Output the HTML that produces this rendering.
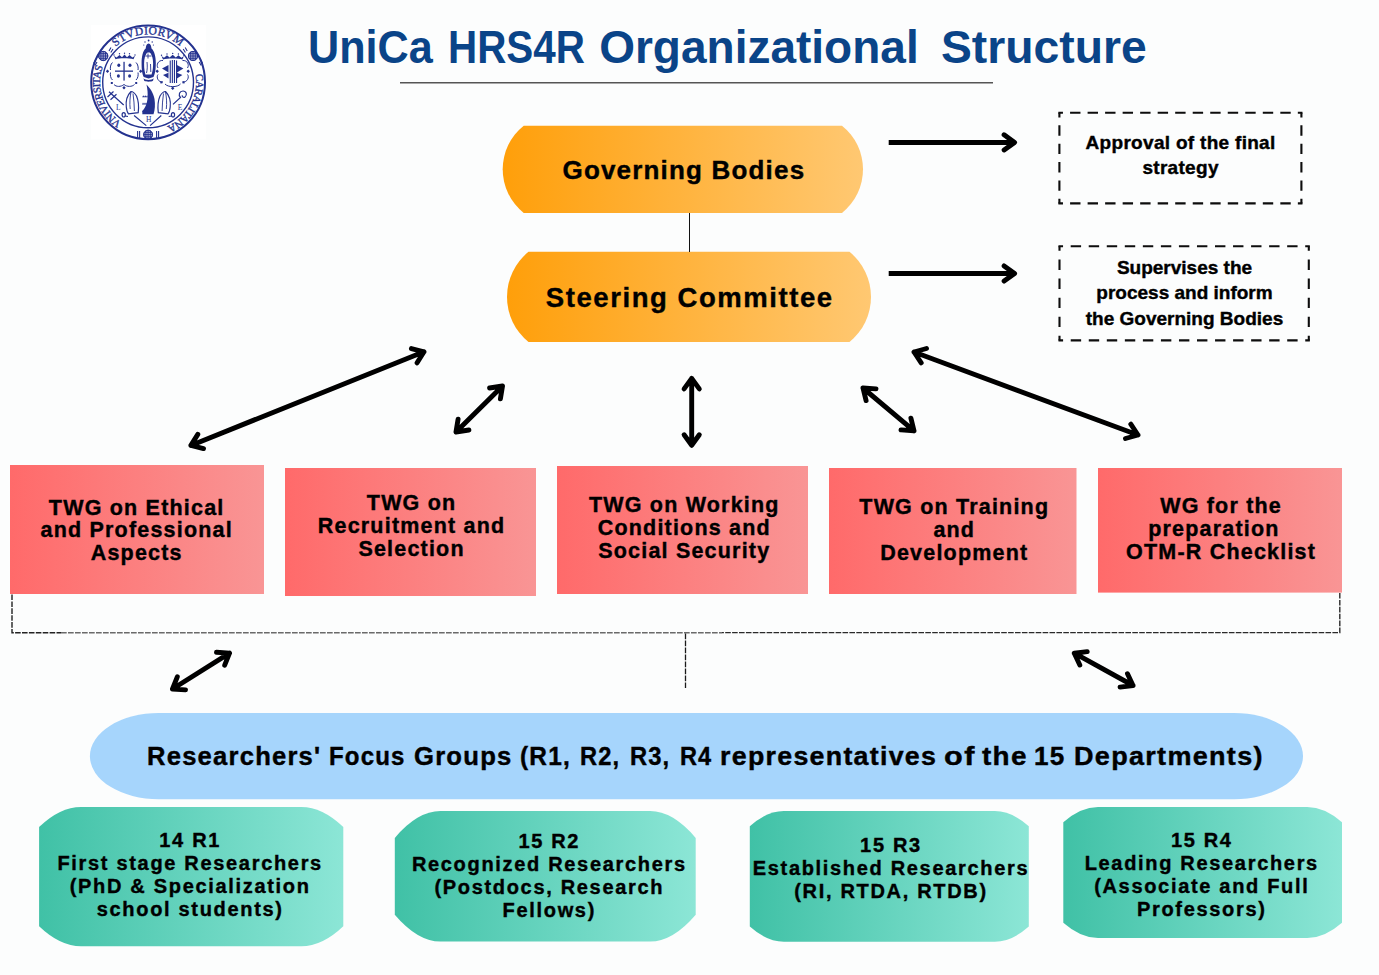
<!DOCTYPE html>
<html><head><meta charset="utf-8"><style>
html,body{margin:0;padding:0;}
body{width:1379px;height:975px;overflow:hidden;position:relative;background:#fcfdfd;font-family:"Liberation Sans",sans-serif;}
svg{position:absolute;left:0;top:0;}
.tt{position:absolute;font-size:46px;line-height:60px;font-weight:bold;color:#0a4488;white-space:nowrap;transform-origin:0 0;}
.t{position:absolute;text-align:center;font-weight:bold;color:#000;white-space:nowrap;-webkit-text-stroke:0.4px #000;}
</style></head><body>
<svg width="1379" height="975" viewBox="0 0 1379 975">
<defs>
<linearGradient id="go" x1="0" y1="0" x2="1" y2="0"><stop offset="0" stop-color="#ff9f0a"/><stop offset="1" stop-color="#ffc872"/></linearGradient>
<linearGradient id="gr" x1="0" y1="0" x2="1" y2="0"><stop offset="0" stop-color="#ff6a6a"/><stop offset="1" stop-color="#f99595"/></linearGradient>
<linearGradient id="gg" x1="0" y1="0" x2="1" y2="0"><stop offset="0" stop-color="#40c1a6"/><stop offset="1" stop-color="#8ce6d6"/></linearGradient>
</defs>
<g id="logo">
<rect x="90.9" y="24.8" width="115.2" height="114.6" fill="#fff"/>
<defs><path id="ring" d="M148.1 130.3A48 48 0 1 1 148.1 34.3A48 48 0 1 1 148.1 130.3"/></defs>
<circle cx="148.1" cy="82.3" r="56.9" fill="none" stroke="#24328f" stroke-width="2"/>
<circle cx="148.1" cy="82.3" r="45.4" fill="none" stroke="#24328f" stroke-width="1.4"/>
<g font-family="Liberation Serif" fill="#24328f" font-size="11.5" stroke="#24328f" stroke-width="0.35">
<text letter-spacing="-0.6" font-size="10.8"><textPath href="#ring" startOffset="59.5" text-anchor="middle">VNIVERSITAS</textPath></text>
<text letter-spacing="0.4"><textPath href="#ring" startOffset="150.5" text-anchor="middle">STVDIORVM</textPath></text>
<text letter-spacing="-0.6" font-size="10.8"><textPath href="#ring" startOffset="249.5" text-anchor="middle">CARALITANA</textPath></text>
</g>
<g fill="none" stroke="#24328f" stroke-width="0.9">
<circle cx="103.2" cy="56" r="4.6" fill="#24328f" fill-opacity="0.35"/><circle cx="103.2" cy="56" r="4.6"/><path d="M98.60000000000001 56H107.8M103.2 51.4V60.6M99.29 53.7H107.11M99.29 58.3H107.11M100.9 52.09V59.91M105.5 52.09V59.91"/>
<circle cx="193.0" cy="56" r="4.6" fill="#24328f" fill-opacity="0.35"/><circle cx="193.0" cy="56" r="4.6"/><path d="M188.4 56H197.6M193.0 51.4V60.6M189.09 53.7H196.91M189.09 58.3H196.91M190.7 52.09V59.91M195.3 52.09V59.91"/>
<circle cx="148.1" cy="134.6" r="4.4" fill="#24328f" fill-opacity="0.35"/><circle cx="148.1" cy="134.6" r="4.4"/><path d="M143.7 134.6H152.5M148.1 130.2V139.0M144.35999999999999 132.4H151.84M144.35999999999999 136.79999999999998H151.84M145.9 130.85999999999999V138.34M150.29999999999998 130.85999999999999V138.34"/>
<path d="M97 62L95 65.5M95.5 60L93.5 63.5M109 51L111 47.5M110.8 52.5L113 49M199.2 62L201.2 65.5M200.7 60L202.7 63.5M187.2 51L185.2 47.5M185.4 52.5L183.2 49M137.6 131V138.5M139.6 131V138.5M158.6 131V138.5M156.6 131V138.5" stroke-width="1.1"/>
</g>
<g fill="#24328f">
<!-- madonna -->
<circle cx="148.6" cy="40.5" r="0.9"/><circle cx="145" cy="42" r="0.7"/><circle cx="152.2" cy="42" r="0.7"/><circle cx="143.8" cy="45" r="0.6"/><circle cx="153.4" cy="45" r="0.6"/>
<path d="M148.6 43.5C150.5 43.5 151.3 46 151.5 48.5C154.5 51 155.8 57 155.8 63C155.8 70 155 74 153.5 77L148.6 78.5L143.7 77C142.2 74 141.6 70 141.6 63C141.6 57 142.7 51 145.7 48.5C145.9 46 146.7 43.5 148.6 43.5Z"/>
<path d="M147.6 52.5C146 53.5 145 56 144.3 60C143.8 65 144.2 70 145.4 74.5L151.6 74.5C153 70 153.4 65 152.9 60C152.2 56 151.2 53.5 149.6 52.5Z" fill="#fff"/>
<path d="M148 53.5V58.5M145.5 56H151.5M147 62C147.5 66 147.3 70 146.5 73M150.5 64L150.8 72" stroke="#24328f" stroke-width="0.9" fill="none"/>
<path d="M143.5 78.2C145 80.5 152 80.5 153.7 78.2L153 80.8C151 82 146 82 144.2 80.8Z"/>
<!-- left arms -->
<path d="M114 55.8L116.5 57.5L119.5 55L122 57.2L124.5 54.5L127 57.2L129.5 55L132.5 57.5L135 55.8L133.5 59.2C129 58 119 58 115.5 59.2Z"/>
<circle cx="114" cy="55" r="0.7"/><circle cx="119.5" cy="53.8" r="0.7"/><circle cx="124.5" cy="53.2" r="0.7"/><circle cx="129.5" cy="53.8" r="0.7"/><circle cx="135" cy="55" r="0.7"/>
<rect x="115" y="70.5" width="18" height="1.3"/><rect x="123.4" y="61.8" width="1.3" height="18.8"/>
<ellipse cx="118.8" cy="65.2" rx="1.5" ry="1.8"/><ellipse cx="130" cy="65.2" rx="1.5" ry="1.8"/><ellipse cx="118.4" cy="76" rx="1.5" ry="1.8"/><ellipse cx="129.6" cy="76" rx="1.5" ry="1.8"/>
<path d="M105.8 71.2L107.5 69.5L109.2 71.2L107.5 72.9ZM139 71.2L140.7 69.5L142.4 71.2L140.7 72.9ZM122.3 87.8L124 86.1L125.7 87.8L124 89.5Z"/>
<rect x="110.8" y="82" width="2" height="2"/><rect x="135.2" y="82" width="2" height="2"/>
</g>
<g fill="none" stroke="#24328f" stroke-width="1">
<path d="M112.5 62.5C110.5 64 110 68 110.5 70M112.5 80C110.5 78.5 110 74.5 110.5 72.5M136 62.5C138 64 138.5 68 138 70M136 80C138 78.5 138.5 74.5 138 72.5"/>
<path d="M114 84.5C116 87 121 87 124 84.5C127 87 132 87 134.5 84.5"/>
<!-- right arms frame -->
<path d="M163 60.5C158 60 156 65 158 68M163 82C158 82.5 156 77 158 74.5M182.5 60.5C187.5 60 189.5 65 187.5 68M182.5 82C187.5 82.5 189.5 77 187.5 74.5M165 84C168 87.5 177.5 87.5 180.5 84"/>
</g>
<g fill="#24328f">
<path d="M161.5 56L164 57.8L167 55.3L169.6 57.4L172.7 54.7L175.8 57.4L178.4 55.3L181.4 57.8L183.9 56L182.4 59.4C178 58.2 167.4 58.2 163 59.4Z"/>
<circle cx="161.5" cy="55.2" r="0.7"/><circle cx="167" cy="54" r="0.7"/><circle cx="172.7" cy="53.4" r="0.7"/><circle cx="178.4" cy="54" r="0.7"/><circle cx="183.9" cy="55.2" r="0.7"/>
<rect x="169.7" y="60.5" width="1.1" height="22.5"/><rect x="171.8" y="60" width="1.1" height="23"/><rect x="173.9" y="60" width="1.1" height="23"/><rect x="176" y="60.5" width="1.1" height="22.5"/>
<path d="M162 68.5L168.5 65L168.5 72.5ZM183.4 68.5L176.9 65V72.5ZM163 75L168.5 72.8V78.5ZM182.4 75L176.9 72.8V78.5Z"/>
<path d="M155.5 71.2L157.2 69.5L158.9 71.2L157.2 72.9ZM186.5 71.2L188.2 69.5L189.9 71.2L188.2 72.9ZM171 88.3L172.7 86.6L174.4 88.3L172.7 90Z"/>
<rect x="160.3" y="81.3" width="2.1" height="2.1"/><rect x="182.5" y="81.3" width="2.1" height="2.1"/>
<!-- ship / tower -->
<path d="M146.5 84.5C150 88 153.5 93 154.5 99C155.3 104 155 110 153.5 114.2H142.3L142.5 111C145 108 147 104 147.5 99C148 94 147.5 89 146.5 84.5Z"/>
<path d="M142.2 97.3L143.2 95.2L144.2 96.8L145.2 95.2L146.2 96.8L147.2 95.2L147.8 97.3ZM142 104.5L143 102.4L144 104L145 102.4L146 104L147 102.4L148 104.5ZM142 112.2L143 110.1L144 111.7L145 110.1L146 111.7L147 110.1L148 112.2Z"/>
</g>
<g fill="none" stroke="#24328f" stroke-width="1.2">
<!-- mitres -->
<path d="M131 91.5C127 95.5 125.6 101 126.3 107C126.6 110 127.3 112.5 128.5 113.8L138.2 112.7C138.8 108 138.7 101 136.5 96C135 93.5 133 91.5 131 91.5Z"/>
<path d="M131 92C130 97 129.5 103 130.2 109M133 93.5C133.8 99 134.3 105 134.4 111" stroke-width="0.9"/>
<path d="M165.5 91.5C169.5 95.5 170.9 101 170.2 107C169.9 110 169.2 112.5 168 113.8L158.3 112.7C157.7 108 157.8 101 160 96C161.5 93.5 163.5 91.5 165.5 91.5Z"/>
<path d="M165.5 92C166.5 97 167 103 166.3 109M163.5 93.5C162.7 99 162.2 105 162.1 111" stroke-width="0.9"/>
<!-- patriarchal cross -->
<path d="M109 91.8L123.7 105M107.5 97L113.5 91.5M110.5 99.8L116.5 94.3"/>
<!-- crozier -->
<path d="M173 104.4L180.5 97.5C178 95 179.5 91 183 91C186.5 91 187.5 95 185 97C183.5 98 181.8 96.8 182.3 95.3"/>
<!-- staffs -->
<path d="M134.1 115.5L146.3 125.6M161.3 115.5L150.1 125.6"/>
<ellipse cx="123.7" cy="114.8" rx="1.6" ry="2.2"/><ellipse cx="173" cy="114.8" rx="1.6" ry="2.2"/>
<path d="M125 116L128 116.5M171.7 116L168.7 116.5"/>
</g>
<g font-family="Liberation Serif" fill="#24328f" font-size="7.5" text-anchor="middle">
<text x="118.4" y="110">L</text><text x="148.7" y="122">H</text><text x="180" y="110">E</text>
</g>
</g>

<line x1="400" y1="82.8" x2="993" y2="82.8" stroke="#555" stroke-width="1.5"/>
<path d="M523.7 125.7L842 125.7A55.76 55.76 0 0 1 842 212.9L523.7 212.9A55.76 55.76 0 0 1 523.7 125.7Z" fill="url(#go)"/>
<path d="M528.5 251.8L849.5 251.8A58.05 58.05 0 0 1 849.5 342L528.5 342A58.05 58.05 0 0 1 528.5 251.8Z" fill="url(#go)"/>
<line x1="689.5" y1="213" x2="689.5" y2="252" stroke="#111" stroke-width="1"/>
<g fill="none" stroke="#0d0d0d" stroke-width="2.1" stroke-linecap="butt"><path d="M1058.3500000000001 112.8L1302.45 112.8" stroke-dasharray="4.60 7.12 10.40 7.12 10.40 7.12 10.40 7.12 10.40 7.12 10.40 7.12 10.40 7.12 10.40 7.12 10.40 7.12 10.40 7.12 10.40 7.12 10.40 7.12 10.40 7.12 10.40 7.12 4.60 2000.00"/><path d="M1301.4 112.8L1301.4 203.4" stroke-dasharray="4.60 7.96 10.40 7.96 10.40 7.96 10.40 7.96 10.40 7.96 4.60 2000.00"/><path d="M1302.45 203.4L1058.3500000000001 203.4" stroke-dasharray="4.60 7.12 10.40 7.12 10.40 7.12 10.40 7.12 10.40 7.12 10.40 7.12 10.40 7.12 10.40 7.12 10.40 7.12 10.40 7.12 10.40 7.12 10.40 7.12 10.40 7.12 10.40 7.12 4.60 2000.00"/><path d="M1059.4 203.4L1059.4 112.8" stroke-dasharray="4.60 7.96 10.40 7.96 10.40 7.96 10.40 7.96 10.40 7.96 4.60 2000.00"/></g>
<g fill="none" stroke="#0d0d0d" stroke-width="2.1" stroke-linecap="butt"><path d="M1058.45 246.2L1309.85 246.2" stroke-dasharray="4.60 7.64 10.40 7.64 10.40 7.64 10.40 7.64 10.40 7.64 10.40 7.64 10.40 7.64 10.40 7.64 10.40 7.64 10.40 7.64 10.40 7.64 10.40 7.64 10.40 7.64 10.40 7.64 4.60 2000.00"/><path d="M1308.8 246.2L1308.8 340.4" stroke-dasharray="4.60 8.68 10.40 8.68 10.40 8.68 10.40 8.68 10.40 8.68 4.60 2000.00"/><path d="M1309.85 340.4L1058.45 340.4" stroke-dasharray="4.60 7.64 10.40 7.64 10.40 7.64 10.40 7.64 10.40 7.64 10.40 7.64 10.40 7.64 10.40 7.64 10.40 7.64 10.40 7.64 10.40 7.64 10.40 7.64 10.40 7.64 10.40 7.64 4.60 2000.00"/><path d="M1059.5 340.4L1059.5 246.2" stroke-dasharray="4.60 8.68 10.40 8.68 10.40 8.68 10.40 8.68 10.40 8.68 4.60 2000.00"/></g>
<g stroke="#000" stroke-width="4.9" stroke-linecap="round" stroke-linejoin="round" fill="none">
<path d="M190.9 445.4L424.0 351.8M411.4 348.6L424.0 351.8L417.1 362.8M203.5 448.6L190.9 445.4L197.8 434.4"/>
<path d="M456.0 432.0L502.5 386.0M489.6 388.0L502.5 386.0L500.4 398.8M468.9 430.0L456.0 432.0L458.1 419.2"/>
<path d="M691.7 378.4L691.7 445.3M699.3 434.8L691.7 445.3L684.1 434.8M684.1 388.9L691.7 378.4L699.3 388.9"/>
<path d="M863.0 388.0L914.0 430.8M910.9 418.2L914.0 430.8L901.0 429.9M866.1 400.6L863.0 388.0L876.0 388.9"/>
<path d="M914.0 352.0L1138.0 435.0M1130.8 424.2L1138.0 435.0L1125.5 438.5M921.2 362.8L914.0 352.0L926.5 348.5"/>
<path d="M172.5 689.0L229.5 653.1M216.5 652.2L229.5 653.1L224.7 665.2M185.5 689.9L172.5 689.0L177.3 676.9"/>
<path d="M1074.3 653.2L1133.0 685.5M1127.5 673.7L1133.0 685.5L1120.1 687.1M1079.8 665.0L1074.3 653.2L1087.2 651.6"/>
<path d="M888.7 142.4H1013.6" stroke-linecap="butt" stroke-width="5"/><path d="M1004.1 134.8L1014.6 142.4L1004.1 150.0" stroke-width="4.9"/>
<path d="M888.7 273.5H1013.6" stroke-linecap="butt" stroke-width="5"/><path d="M1004.1 265.9L1014.6 273.5L1004.1 281.1" stroke-width="4.9"/>
</g>
<rect x="10" y="465" width="254" height="129" fill="url(#gr)"/>
<rect x="285" y="468" width="251" height="128" fill="url(#gr)"/>
<rect x="557" y="466" width="251" height="128" fill="url(#gr)"/>
<rect x="829" y="468" width="247.5" height="126" fill="url(#gr)"/>
<rect x="1098" y="468" width="244" height="124.6" fill="url(#gr)"/>
<path d="M12 594.5V632.8H61" fill="none" stroke="#222" stroke-width="1.4" stroke-dasharray="5.6 1.3"/>
<path d="M61 632.8H722" fill="none" stroke="#6a6a6a" stroke-width="1.4" stroke-dasharray="5.7 1.3"/>
<path d="M1339.8 593V632.6H722" fill="none" stroke="#2a2a2a" stroke-width="1.4" stroke-dasharray="5.6 1.3"/>
<line x1="685.5" y1="633.5" x2="685.5" y2="688" stroke="#1a1a1a" stroke-width="1.3" stroke-dasharray="5.7 1.3"/>
<rect x="89.9" y="713.1" width="1213.1" height="86.1" rx="69" ry="43" fill="#a6d5fc"/>
<path d="M39.1 827.1Q60.05 807.1 81.00 807.1L301.40 807.1Q322.35 807.1 343.3 827.1L343.3 926.2Q322.35 946.2 301.40 946.2L81.00 946.2Q60.05 946.2 39.1 926.2Z" fill="url(#gg)"/>
<path d="M394.8 837.9Q417.60 811.1 440.40 811.1L650.10 811.1Q672.90 811.1 695.7 837.9L695.7 914.7Q672.90 941.5 650.10 941.5L440.40 941.5Q417.60 941.5 394.8 914.7Z" fill="url(#gg)"/>
<path d="M749.8 826.2Q766.80 811.1 783.80 811.1L994.80 811.1Q1011.80 811.1 1028.8 826.2L1028.8 926.6Q1011.80 941.7 994.80 941.7L783.80 941.7Q766.80 941.7 749.8 926.6Z" fill="url(#gg)"/>
<path d="M1063.3 822.3Q1080.65 807.0 1098.00 807.0L1307.30 807.0Q1324.65 807.0 1342 822.3L1342 922.7Q1324.65 938.0 1307.30 938.0L1098.00 938.0Q1080.65 938.0 1063.3 922.7Z" fill="url(#gg)"/>
</svg>
<div class="tt" style="left:307.6px;top:16.7px;transform:scaleX(0.938)">UniCa</div><div class="tt" style="left:448.2px;top:16.7px;transform:scaleX(0.878)">HRS4R</div><div class="tt" style="left:599.2px;top:16.7px;transform:scaleX(1.0)">Organizational</div><div class="tt" style="left:940.7px;top:16.7px;transform:scaleX(1.006)">Structure</div><div class="t" style="left:146.6px;top:741.1px;font-size:25px;line-height:30px;letter-spacing:1.2px;transform:scaleX(1.023);transform-origin:0 0">Researchers'</div><div class="t" style="left:329.3px;top:741.1px;font-size:25px;line-height:30px;letter-spacing:1.2px;transform:scaleX(0.961);transform-origin:0 0">Focus</div><div class="t" style="left:414.2px;top:741.1px;font-size:25px;line-height:30px;letter-spacing:1.2px;transform:scaleX(1.025);transform-origin:0 0">Groups</div><div class="t" style="left:519.7px;top:741.1px;font-size:25px;line-height:30px;letter-spacing:1.2px;transform:scaleX(0.978);transform-origin:0 0">(R1,</div><div class="t" style="left:579.7px;top:741.1px;font-size:25px;line-height:30px;letter-spacing:1.2px;transform:scaleX(0.946);transform-origin:0 0">R2,</div><div class="t" style="left:629.7px;top:741.1px;font-size:25px;line-height:30px;letter-spacing:1.2px;transform:scaleX(0.949);transform-origin:0 0">R3,</div><div class="t" style="left:679.7px;top:741.1px;font-size:25px;line-height:30px;letter-spacing:1.2px;transform:scaleX(0.941);transform-origin:0 0">R4</div><div class="t" style="left:720.4px;top:741.1px;font-size:25px;line-height:30px;letter-spacing:1.2px;transform:scaleX(1.071);transform-origin:0 0">representatives</div><div class="t" style="left:944.4px;top:741.1px;font-size:25px;line-height:30px;letter-spacing:1.2px;transform:scaleX(1.225);transform-origin:0 0">of</div><div class="t" style="left:982.0px;top:741.1px;font-size:25px;line-height:30px;letter-spacing:1.2px;transform:scaleX(1.115);transform-origin:0 0">the</div><div class="t" style="left:1034.3px;top:741.1px;font-size:25px;line-height:30px;letter-spacing:1.2px;transform:scaleX(1.044);transform-origin:0 0">15</div><div class="t" style="left:1074.4px;top:741.1px;font-size:25px;line-height:30px;letter-spacing:1.2px;transform:scaleX(1.081);transform-origin:0 0">Departments)</div><div class="t" style="left:523.9px;top:154.9px;width:320px;font-size:26px;line-height:30px;letter-spacing:1.18px;">Governing Bodies</div>
<div class="t" style="left:529.8px;top:283.3px;width:320px;font-size:27.5px;line-height:30px;letter-spacing:1.56px;">Steering Committee</div>
<div class="t" style="left:1020.6px;top:129.5px;width:320px;font-size:19px;line-height:25.7px;letter-spacing:0.3px;">Approval of the final<br>strategy</div>
<div class="t" style="left:1024.5px;top:254.6px;width:320px;font-size:19px;line-height:25.7px;letter-spacing:0.0px;">Supervises the<br>process and inform<br>the Governing Bodies</div>
<div class="t" style="left:-23.3px;top:496.5px;width:320px;font-size:21.5px;line-height:22.75px;letter-spacing:1.2px;">TWG on Ethical<br>and Professional<br>Aspects</div>
<div class="t" style="left:251.6px;top:492.4px;width:320px;font-size:21.5px;line-height:22.75px;letter-spacing:1.2px;">TWG on<br>Recruitment and<br>Selection</div>
<div class="t" style="left:524.3px;top:494.1px;width:320px;font-size:21.5px;line-height:22.75px;letter-spacing:1.2px;">TWG on Working<br>Conditions and<br>Social Security</div>
<div class="t" style="left:794.3px;top:496.3px;width:320px;font-size:21.5px;line-height:22.75px;letter-spacing:1.2px;">TWG on Training<br>and<br>Development</div>
<div class="t" style="left:1061.1px;top:495.0px;width:320px;font-size:21.5px;line-height:22.75px;letter-spacing:1.2px;">WG for the<br>preparation&nbsp;&nbsp;<br>OTM-R Checklist</div>
<div class="t" style="left:30.2px;top:829.1px;width:320px;font-size:20px;line-height:22.9px;letter-spacing:1.68px;">14 R1<br>First stage Researchers<br>(PhD &amp; Specialization<br>school students)</div>
<div class="t" style="left:389.3px;top:829.9px;width:320px;font-size:20px;line-height:22.9px;letter-spacing:1.68px;">15 R2<br>Recognized Researchers<br>(Postdocs, Research<br>Fellows)</div>
<div class="t" style="left:731.0px;top:833.8px;width:320px;font-size:20px;line-height:22.9px;letter-spacing:1.68px;">15 R3<br>Established Researchers<br>(RI, RTDA, RTDB)</div>
<div class="t" style="left:1041.8px;top:828.8px;width:320px;font-size:20px;line-height:22.9px;letter-spacing:1.68px;">15 R4<br>Leading Researchers<br>(Associate and Full<br>Professors)</div>
</body></html>
